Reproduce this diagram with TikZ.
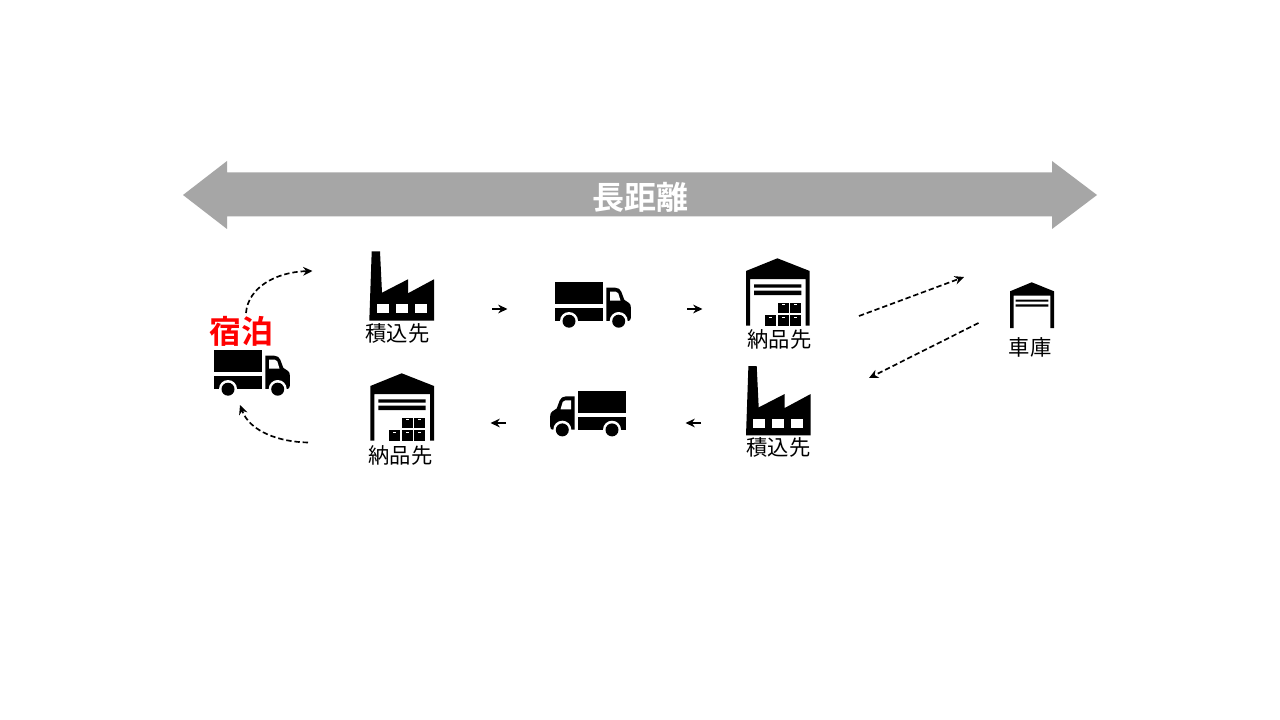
\documentclass[tikz,border=0pt]{standalone}
\usepackage{fontspec}
\usetikzlibrary{arrows.meta}
\newfontfamily\cjk{Noto Sans CJK JP}
\newfontfamily\cjkb{Noto Sans CJK JP Bold}
\tikzset{
  x=0.75pt,y=-0.75pt,
  icon/.style={fill=black,draw=none},
  hole/.style={fill=white,draw=none},
  flow/.style={line width=1.25pt,-{Stealth[length=7pt,width=6.5pt]}},
  dashflow/.style={flow,dash pattern=on 4pt off 2.2pt},
  lbl/.style={font=\cjk\fontsize{16}{18}\selectfont,text=black,inner sep=0pt},
  bigbar/.style={fill=black!35,draw=none},
  truck/.pic={
    \fill[icon] (0,0) rectangle (48,22);
    \fill[icon] (0,25.7) rectangle (48,38.7);
    \fill[icon] (51,5.4) -- (60,5.4) .. controls (63,5.4) and (65,7) .. (66,9.5) -- (69,17.5)
      -- (73.5,20.5) .. controls (75,21.5) and (75.5,23) .. (75.5,25) -- (75.5,35.5)
      .. controls (75.5,37.5) and (74.5,38.7) .. (73,38.7) -- (51,38.7) -- cycle;
    \fill[hole] (54.7,9.4) -- (60.5,9.4) .. controls (62,9.4) and (62.5,10) .. (63,11) -- (65.2,18.4) -- (54.7,18.4) -- cycle;
    \fill[hole] (13.7,38.7) circle (9) (63.4,38.7) circle (9);
    \fill[hole] (0,38.7) rectangle (80,48);
    \fill[icon] (13.7,38.9) circle (6.5) (63.4,38.9) circle (6.5);
  },
  factory/.pic={
    \fill[icon] (2.4,0) -- (10.7,0) -- (12.7,41.4) -- (38.7,28) -- (38.7,42) -- (64.7,28)
      -- (64.7,69.4) -- (0,69.4) -- cycle;
    \foreach \wx in {7.4,26.4,45.4}{\fill[hole] (\wx,53) rectangle ++(12,9);}
  },
  depot/.pic={
    \fill[icon] (0,12.7) -- (31.4,0) -- (63.7,12.7) -- (63.7,67.4) -- (59.7,67.4) -- (59.7,20.7)
      -- (4,20.7) -- (4,67.4) -- (0,67.4) -- cycle;
    \fill[icon] (8,26) rectangle (55.4,29.4) (8,32.4) rectangle (55.4,36.7);
    \foreach \bx/\by in {32/44.4,44/44.4,19/56.7,32/56.7,44/56.7}{
      \fill[icon] (\bx,\by) rectangle ++(11,10.7);
      \fill[hole] (\bx+3.5,\by+1.5) rectangle ++(3,1.2);
    }
  },
}
\begin{document}
\begin{tikzpicture}
\path[fill=white] (0,0) rectangle (1280,720);
\useasboundingbox (0,0) rectangle (1280,720);

% long-distance double arrow
\fill[bigbar] (183,195) -- (227,161) -- (227,172.5) -- (1052,172.5) -- (1052,161) -- (1097,195)
  -- (1052,229) -- (1052,216.5) -- (227,216.5) -- (227,229) -- cycle;
\node[inner sep=0pt,text=white,font=\cjkb\fontsize{24}{28}\selectfont] (dist) at (640,197) {長距離};

% icons
\pic at (214.3,350.3) {truck};
\pic at (555.3,282.3) {truck};
\pic[xscale=-1] at (625.7,391) {truck};
\pic at (369.3,251.3) {factory};
\pic at (746,366) {factory};
\pic at (746,258.3) {depot};
\pic at (370.3,373.3) {depot};

% garage
\fill[icon] (1010,291.3) -- (1031.7,282.3) -- (1054,291.3) -- (1054,328) -- (1050.3,328) -- (1050.3,295.7)
  -- (1013.7,295.7) -- (1013.7,328) -- (1010,328) -- cycle;
\fill[icon] (1015.7,299.7) rectangle (1048.3,301.7) (1015.7,304.3) rectangle (1048.3,306.7);

% labels
\node[inner sep=0pt,text=red,font=\cjkb\fontsize{24}{28}\selectfont] (stay) at (241.5,331) {宿泊};
\node[lbl] (load1) at (397.5,333.5) {積込先};
\node[lbl] (drop1) at (779.5,339.5) {納品先};
\node[lbl] (load2) at (778.5,447.5) {積込先};
\node[lbl] (drop2) at (400.5,455.5) {納品先};
\node[lbl] (garage) at (1030,347.5) {車庫};

% connector ends
\coordinate (a1) at (492,309); \coordinate (a2) at (507.5,309);
\coordinate (b1) at (687,309); \coordinate (b2) at (702.5,309);
\coordinate (c1) at (506,423); \coordinate (c2) at (490.5,423);
\coordinate (d1) at (701,423); \coordinate (d2) at (685.5,423);
\coordinate (e1) at (859,316); \coordinate (e2) at (964,277);
\coordinate (f1) at (978.5,323); \coordinate (f2) at (869,378);
\coordinate (g1) at (246,313); \coordinate (g2) at (312.5,271);
\coordinate (h1) at (308,442.5); \coordinate (h2) at (240,405);

\draw[flow] (a1) -- (a2);
\draw[flow] (b1) -- (b2);
\draw[flow] (c1) -- (c2);
\draw[flow] (d1) -- (d2);
\draw[dashflow] (e1) -- (e2);
\draw[dashflow] (f1) -- (f2);
\draw[dashflow] (g1) .. controls (248,288) and (275,272) .. (g2);
\draw[dashflow] (h1) .. controls (280,442) and (250,432) .. (h2);
\end{tikzpicture}
\end{document}
